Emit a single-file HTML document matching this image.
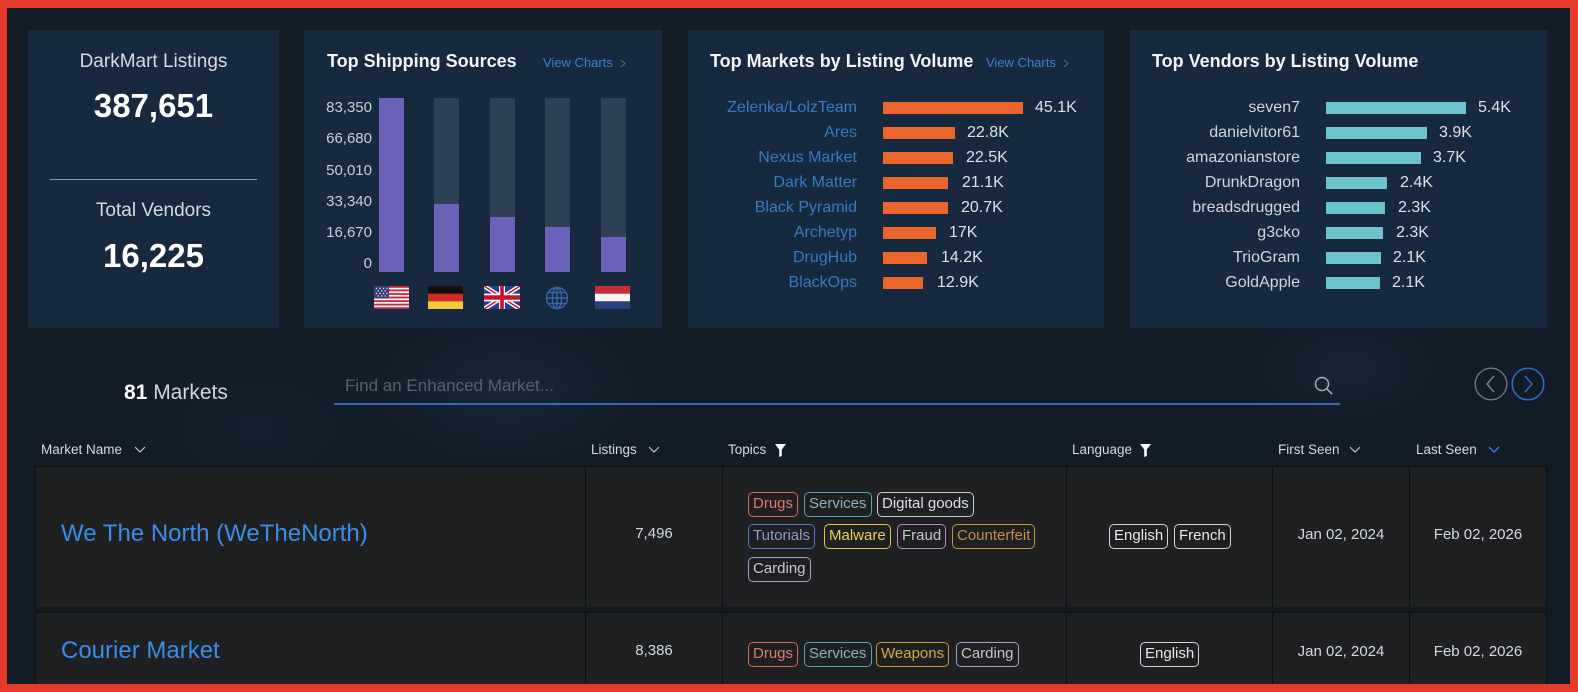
<!DOCTYPE html>
<html><head><meta charset="utf-8">
<style>
*{margin:0;padding:0;box-sizing:border-box}
html,body{width:1578px;height:692px;overflow:hidden;background:#e53a2b}
body{font-family:"Liberation Sans",sans-serif}
#root{position:relative;width:1578px;height:692px;overflow:hidden;background:#e53a2b}
#inner{position:absolute;left:7px;top:8px;width:1563px;height:676px;overflow:hidden;
background:
radial-gradient(ellipse 230px 130px at 500px 380px, rgba(40,58,78,0.35), rgba(0,0,0,0) 70%),
radial-gradient(ellipse 160px 90px at 1340px 360px, rgba(40,58,78,0.3), rgba(0,0,0,0) 70%),
radial-gradient(ellipse 200px 120px at 250px 420px, rgba(40,58,78,0.18), rgba(0,0,0,0) 70%),
#111c27}
.a{position:absolute;white-space:nowrap}
.panel{position:absolute;top:22px;height:298px;background:#16293e}
.t{position:absolute;white-space:nowrap;color:#d6dbe0}
.title{font-size:18px;font-weight:bold;color:#f2f4f6;line-height:22px}
.vc{font-size:13px;color:#3d7fd6;line-height:16px}
.ylab{font-size:15px;line-height:18px;color:#c8ced6;text-align:right}
.bar{position:absolute}
.mlab{font-size:16px;line-height:20px;color:#3a78c6;text-align:right}
.vlab{font-size:16px;line-height:20px;color:#d2d6da;text-align:right}
.val{font-size:16px;line-height:20px;color:#dde1e5}
.hdr{font-size:13.5px;line-height:18px;color:#d4d9de}
.cell{position:absolute;background:#1f2022}
.tag{position:absolute;height:25px;border:1.5px solid;border-radius:5px;font-size:15px;line-height:22px;padding:0 4px;white-space:nowrap}
.name{font-size:24px;line-height:30px;color:#3b8de8}
.num{font-size:15px;line-height:18px;color:#d4d8dc;text-align:center}
</style></head>
<body>
<div id="root">
<div id="inner">
<!-- coordinates inside inner are offset by (-7,-8) -->

<!-- Panel 1 -->
<div class="panel" style="left:21px;width:251px;"></div>
<div class="t" style="left:21px;width:251px;top:42px;text-align:center;font-size:19px;line-height:24px;">DarkMart Listings</div>
<div class="t" style="left:21px;width:251px;top:78px;text-align:center;font-size:33px;line-height:40px;font-weight:bold;color:#fff;">387,651</div>
<div class="a" style="left:43px;top:171px;width:207px;height:1px;background:#8a96a3;"></div>
<div class="t" style="left:21px;width:251px;top:191px;text-align:center;font-size:19px;line-height:24px;">Total Vendors</div>
<div class="t" style="left:21px;width:251px;top:228px;text-align:center;font-size:33px;line-height:40px;font-weight:bold;color:#fff;">16,225</div>

<!-- Panel 2 -->
<div class="panel" style="left:297px;width:358px;"></div>
<div class="t title" style="left:320px;top:42px;">Top Shipping Sources</div>
<div class="t vc" style="left:536px;top:47px;">View Charts</div>
<svg class="a" style="left:613px;top:51px" width="6" height="9"><polyline points="1,1 5,4.5 1,8" fill="none" stroke="#5f7188" stroke-width="1"/></svg>
<div class="t ylab" style="right:1198px;top:91px;">83,350</div>
<div class="t ylab" style="right:1198px;top:122px;">66,680</div>
<div class="t ylab" style="right:1198px;top:154px;">50,010</div>
<div class="t ylab" style="right:1198px;top:185px;">33,340</div>
<div class="t ylab" style="right:1198px;top:216px;">16,670</div>
<div class="t ylab" style="right:1198px;top:247px;">0</div>
<!-- bars: page x 379,434,490,545,601 ; y 98..272 -->
<div class="bar" style="left:372px;top:90px;width:25px;height:174px;background:#6b62b9"></div>
<div class="bar" style="left:427px;top:90px;width:25px;height:174px;background:#2e4154"></div>
<div class="bar" style="left:427px;top:196px;width:25px;height:68px;background:#6b62b9"></div>
<div class="bar" style="left:483px;top:90px;width:25px;height:174px;background:#2e4154"></div>
<div class="bar" style="left:483px;top:209px;width:25px;height:55px;background:#6b62b9"></div>
<div class="bar" style="left:538px;top:90px;width:25px;height:174px;background:#2e4154"></div>
<div class="bar" style="left:538px;top:219px;width:25px;height:45px;background:#6b62b9"></div>
<div class="bar" style="left:594px;top:90px;width:25px;height:174px;background:#2e4154"></div>
<div class="bar" style="left:594px;top:229px;width:25px;height:35px;background:#6b62b9"></div>
<!-- flags, page y 286..309 -->
<svg class="a" style="left:367px;top:278px" width="35" height="23" viewBox="0 0 35 23" preserveAspectRatio="none">
<rect width="35" height="23" fill="#f4f4f4"/>
<g fill="#c8283a"><rect y="0" width="35" height="1.8"/><rect y="3.5" width="35" height="1.8"/><rect y="7.1" width="35" height="1.8"/><rect y="10.6" width="35" height="1.8"/><rect y="14.2" width="35" height="1.8"/><rect y="17.7" width="35" height="1.8"/><rect y="21.2" width="35" height="1.8"/></g>
<rect width="15" height="12.4" fill="#3c3f7a"/>
<g fill="#dfe3ef"><circle cx="2.5" cy="2.5" r=".7"/><circle cx="6" cy="2.5" r=".7"/><circle cx="9.5" cy="2.5" r=".7"/><circle cx="13" cy="2.5" r=".7"/><circle cx="4.2" cy="5" r=".7"/><circle cx="7.7" cy="5" r=".7"/><circle cx="11.2" cy="5" r=".7"/><circle cx="2.5" cy="7.5" r=".7"/><circle cx="6" cy="7.5" r=".7"/><circle cx="9.5" cy="7.5" r=".7"/><circle cx="13" cy="7.5" r=".7"/><circle cx="4.2" cy="10" r=".7"/><circle cx="7.7" cy="10" r=".7"/><circle cx="11.2" cy="10" r=".7"/></g>
</svg>
<svg class="a" style="left:421px;top:278px" width="35" height="23" viewBox="0 0 35 23" preserveAspectRatio="none">
<rect width="35" height="7.7" fill="#111"/><rect y="7.7" width="35" height="7.7" fill="#d42a1f"/><rect y="15.3" width="35" height="7.7" fill="#f2c93a"/>
</svg>
<svg class="a" style="left:477px;top:278px" width="36" height="23" viewBox="0 0 60 30" preserveAspectRatio="none">
<rect width="60" height="30" fill="#1f3f8f"/>
<path d="M0,0 L60,30 M60,0 L0,30" stroke="#fff" stroke-width="6"/>
<path d="M0,0 L60,30 M60,0 L0,30" stroke="#c8102e" stroke-width="2"/>
<path d="M30,0 v30 M0,15 h60" stroke="#fff" stroke-width="10"/>
<path d="M30,0 v30 M0,15 h60" stroke="#c8102e" stroke-width="6"/>
</svg>
<svg class="a" style="left:538px;top:278px" width="24" height="24" viewBox="0 0 24 24">
<g fill="none" stroke="#3b64ad" stroke-width="1.4"><circle cx="12" cy="12" r="10.5"/><ellipse cx="12" cy="12" rx="4.6" ry="10.5"/><line x1="12" y1="1.5" x2="12" y2="22.5"/><line x1="1.5" y1="12" x2="22.5" y2="12"/><path d="M3.2,6.5 H20.8 M3.2,17.5 H20.8"/></g>
</svg>
<svg class="a" style="left:588px;top:278px" width="35" height="23" viewBox="0 0 35 23" preserveAspectRatio="none">
<rect width="35" height="7.7" fill="#c62f35"/><rect y="7.7" width="35" height="7.7" fill="#f4f4f4"/><rect y="15.3" width="35" height="7.7" fill="#2a3f7c"/>
</svg>

<!-- Panel 3 -->
<div class="panel" style="left:681px;width:416px;"></div>
<div class="t title" style="left:703px;top:42px;">Top Markets by Listing Volume</div>
<div class="t vc" style="left:979px;top:47px;">View Charts</div>
<svg class="a" style="left:1056px;top:51px" width="6" height="9"><polyline points="1,1 5,4.5 1,8" fill="none" stroke="#5f7188" stroke-width="1"/></svg>

<div class="t mlab" style="right:713px;top:90px;">Zelenka/LolzTeam</div>
<div class="t mlab" style="right:713px;top:115px;">Ares</div>
<div class="t mlab" style="right:713px;top:140px;">Nexus Market</div>
<div class="t mlab" style="right:713px;top:165px;">Dark Matter</div>
<div class="t mlab" style="right:713px;top:190px;">Black Pyramid</div>
<div class="t mlab" style="right:713px;top:215px;">Archetyp</div>
<div class="t mlab" style="right:713px;top:240px;">DrugHub</div>
<div class="t mlab" style="right:713px;top:265px;">BlackOps</div>

<div class="bar" style="left:876px;top:94px;width:140px;height:12px;background:#e9652b"></div>
<div class="bar" style="left:876px;top:119px;width:72px;height:12px;background:#e9652b"></div>
<div class="bar" style="left:876px;top:144px;width:70px;height:12px;background:#e9652b"></div>
<div class="bar" style="left:876px;top:169px;width:65px;height:12px;background:#e9652b"></div>
<div class="bar" style="left:876px;top:194px;width:65px;height:12px;background:#e9652b"></div>
<div class="bar" style="left:876px;top:219px;width:53px;height:12px;background:#e9652b"></div>
<div class="bar" style="left:876px;top:244px;width:44px;height:12px;background:#e9652b"></div>
<div class="bar" style="left:876px;top:269px;width:40px;height:12px;background:#e9652b"></div>

<div class="t val" style="left:1028px;top:90px;">45.1K</div>
<div class="t val" style="left:960px;top:115px;">22.8K</div>
<div class="t val" style="left:959px;top:140px;">22.5K</div>
<div class="t val" style="left:955px;top:165px;">21.1K</div>
<div class="t val" style="left:954px;top:190px;">20.7K</div>
<div class="t val" style="left:942px;top:215px;">17K</div>
<div class="t val" style="left:934px;top:240px;">14.2K</div>
<div class="t val" style="left:930px;top:265px;">12.9K</div>

<!-- Panel 4 -->
<div class="panel" style="left:1123px;width:417px;"></div>
<div class="t title" style="left:1145px;top:42px;">Top Vendors by Listing Volume</div>

<div class="t vlab" style="right:270px;top:90px;">seven7</div>
<div class="t vlab" style="right:270px;top:115px;">danielvitor61</div>
<div class="t vlab" style="right:270px;top:140px;">amazonianstore</div>
<div class="t vlab" style="right:270px;top:165px;">DrunkDragon</div>
<div class="t vlab" style="right:270px;top:190px;">breadsdrugged</div>
<div class="t vlab" style="right:270px;top:215px;">g3cko</div>
<div class="t vlab" style="right:270px;top:240px;">TrioGram</div>
<div class="t vlab" style="right:270px;top:265px;">GoldApple</div>

<div class="bar" style="left:1319px;top:94px;width:140px;height:12px;background:#6cc3cc"></div>
<div class="bar" style="left:1319px;top:119px;width:101px;height:12px;background:#6cc3cc"></div>
<div class="bar" style="left:1319px;top:144px;width:95px;height:12px;background:#6cc3cc"></div>
<div class="bar" style="left:1319px;top:169px;width:61px;height:12px;background:#6cc3cc"></div>
<div class="bar" style="left:1319px;top:194px;width:59px;height:12px;background:#6cc3cc"></div>
<div class="bar" style="left:1319px;top:219px;width:57px;height:12px;background:#6cc3cc"></div>
<div class="bar" style="left:1319px;top:244px;width:55px;height:12px;background:#6cc3cc"></div>
<div class="bar" style="left:1319px;top:269px;width:54px;height:12px;background:#6cc3cc"></div>

<div class="t val" style="left:1471px;top:90px;">5.4K</div>
<div class="t val" style="left:1432px;top:115px;">3.9K</div>
<div class="t val" style="left:1426px;top:140px;">3.7K</div>
<div class="t val" style="left:1393px;top:165px;">2.4K</div>
<div class="t val" style="left:1391px;top:190px;">2.3K</div>
<div class="t val" style="left:1389px;top:215px;">2.3K</div>
<div class="t val" style="left:1386px;top:240px;">2.1K</div>
<div class="t val" style="left:1385px;top:265px;">2.1K</div>

<!-- Search row -->
<div class="t" style="left:117px;top:372px;font-size:21px;line-height:26px;color:#d0d6dc;"><b style="color:#fff">81</b> Markets</div>
<div class="t" style="left:338px;top:368px;font-size:17px;line-height:20px;color:#56626f;">Find an Enhanced Market...</div>
<div class="a" style="left:327px;top:395px;width:1006px;height:2px;background:#2d6bb5;"></div>
<svg class="a" style="left:1307px;top:368px" width="20" height="20" viewBox="0 0 20 20"><circle cx="8" cy="8" r="6.5" fill="none" stroke="#a3abb5" stroke-width="1.5"/><line x1="12.8" y1="12.8" x2="18" y2="18" stroke="#a3abb5" stroke-width="1.6"/></svg>
<svg class="a" style="left:1467px;top:359px" width="34" height="34" viewBox="0 0 34 34"><circle cx="17" cy="17" r="15.8" fill="none" stroke="#6b7683" stroke-width="1.4"/><polyline points="20,9 13,17 20,25" fill="none" stroke="#7b8692" stroke-width="1.4"/></svg>
<svg class="a" style="left:1504px;top:359px" width="34" height="34" viewBox="0 0 34 34"><circle cx="17" cy="17" r="15.8" fill="none" stroke="#2f6ec4" stroke-width="1.5"/><polyline points="14,9 21,17 14,25" fill="none" stroke="#2f6ec4" stroke-width="1.5"/></svg>

<!-- Header row -->
<div class="t hdr" style="left:34px;top:433px;">Market Name</div>
<svg class="a" style="left:127px;top:438px" width="12" height="8"><polyline points="1,1 6,6 11,1" fill="none" stroke="#c0c6cc" stroke-width="1.2"/></svg>
<div class="t hdr" style="left:584px;top:433px;">Listings</div>
<svg class="a" style="left:641px;top:438px" width="12" height="8"><polyline points="1,1 6,6 11,1" fill="none" stroke="#c0c6cc" stroke-width="1.2"/></svg>
<div class="t hdr" style="left:721px;top:433px;">Topics</div>
<svg class="a" style="left:768px;top:436px" width="11" height="13" viewBox="0 0 11 13"><path d="M0,0 H11 L6.8,5.5 V12 L4.2,13 V5.5 Z" fill="#fff"/></svg>
<div class="t hdr" style="left:1065px;top:433px;">Language</div>
<svg class="a" style="left:1133px;top:436px" width="11" height="13" viewBox="0 0 11 13"><path d="M0,0 H11 L6.8,5.5 V12 L4.2,13 V5.5 Z" fill="#fff"/></svg>
<div class="t hdr" style="left:1271px;top:433px;">First Seen</div>
<svg class="a" style="left:1342px;top:438px" width="12" height="8"><polyline points="1,1 6,6 11,1" fill="none" stroke="#c0c6cc" stroke-width="1.2"/></svg>
<div class="t hdr" style="left:1409px;top:433px;">Last Seen</div>
<svg class="a" style="left:1481px;top:438px" width="12" height="8"><polyline points="1,1 6,6 11,1" fill="none" stroke="#3a7fd5" stroke-width="1.5"/></svg>

<!-- Table -->
<div class="a" style="left:28px;top:458px;width:1512px;height:230px;background:#0d1013;"></div>
<div class="a" style="left:28px;top:599px;width:1512px;height:5px;background:#14191e;"></div>
<!-- row 1 cells: page y 467..606 -> inner 459..598 -->
<div class="cell" style="left:29px;top:459px;width:549px;height:140px;"></div>
<div class="cell" style="left:579px;top:459px;width:136px;height:140px;"></div>
<div class="cell" style="left:716px;top:459px;width:343px;height:140px;"></div>
<div class="cell" style="left:1060px;top:459px;width:205px;height:140px;"></div>
<div class="cell" style="left:1266px;top:459px;width:136px;height:140px;"></div>
<div class="cell" style="left:1403px;top:459px;width:136px;height:140px;"></div>
<!-- row 2 cells: page y 613.. -> inner 605.. -->
<div class="cell" style="left:29px;top:605px;width:549px;height:90px;"></div>
<div class="cell" style="left:579px;top:605px;width:136px;height:90px;"></div>
<div class="cell" style="left:716px;top:605px;width:343px;height:90px;"></div>
<div class="cell" style="left:1060px;top:605px;width:205px;height:90px;"></div>
<div class="cell" style="left:1266px;top:605px;width:136px;height:90px;"></div>
<div class="cell" style="left:1403px;top:605px;width:136px;height:90px;"></div>

<!-- row 1 content (center page y 534 -> inner 526) -->
<div class="t name" style="left:54px;top:511px;">We The North (WeTheNorth)</div>
<div class="t num" style="left:579px;width:136px;top:517px;">7,496</div>
<div class="tag" style="left:741px;top:484px;border-color:#d9695a;color:#e07a6a;">Drugs</div>
<div class="tag" style="left:797px;top:484px;border-color:#4fa7b5;color:#86b4be;">Services</div>
<div class="tag" style="left:870px;top:484px;border-color:#c6c9ce;color:#dcdfe3;">Digital goods</div>
<div class="tag" style="left:741px;top:516px;border-color:#5a6fd0;color:#8c9cc8;">Tutorials</div>
<div class="tag" style="left:817px;top:516px;border-color:#e4c040;color:#f0cd50;">Malware</div>
<div class="tag" style="left:890px;top:516px;border-color:#b58dc4;color:#c4c6cc;">Fraud</div>
<div class="tag" style="left:945px;top:516px;border-color:#c99430;color:#c58f45;">Counterfeit</div>
<div class="tag" style="left:741px;top:549px;border-color:#a99bcc;color:#c4c6cc;">Carding</div>
<div class="tag" style="left:1102px;top:516px;border-color:#d0d3d8;color:#e6e8ea;">English</div>
<div class="tag" style="left:1167px;top:516px;border-color:#d0d3d8;color:#e6e8ea;">French</div>
<div class="t num" style="left:1266px;width:136px;top:518px;">Jan 02, 2024</div>
<div class="t num" style="left:1403px;width:136px;top:518px;">Feb 02, 2026</div>

<!-- row 2 content (center page y 651 -> inner 643) -->
<div class="t name" style="left:54px;top:628px;">Courier Market</div>
<div class="t num" style="left:579px;width:136px;top:634px;">8,386</div>
<div class="tag" style="left:741px;top:634px;border-color:#d9695a;color:#e07a6a;">Drugs</div>
<div class="tag" style="left:797px;top:634px;border-color:#4fa7b5;color:#86b4be;">Services</div>
<div class="tag" style="left:869px;top:634px;border-color:#c99a3a;color:#d8a84a;">Weapons</div>
<div class="tag" style="left:949px;top:634px;border-color:#a99bcc;color:#c4c6cc;">Carding</div>
<div class="tag" style="left:1133px;top:634px;border-color:#d0d3d8;color:#e6e8ea;">English</div>
<div class="t num" style="left:1266px;width:136px;top:635px;">Jan 02, 2024</div>
<div class="t num" style="left:1403px;width:136px;top:635px;">Feb 02, 2026</div>

</div>
</div>
</body></html>
